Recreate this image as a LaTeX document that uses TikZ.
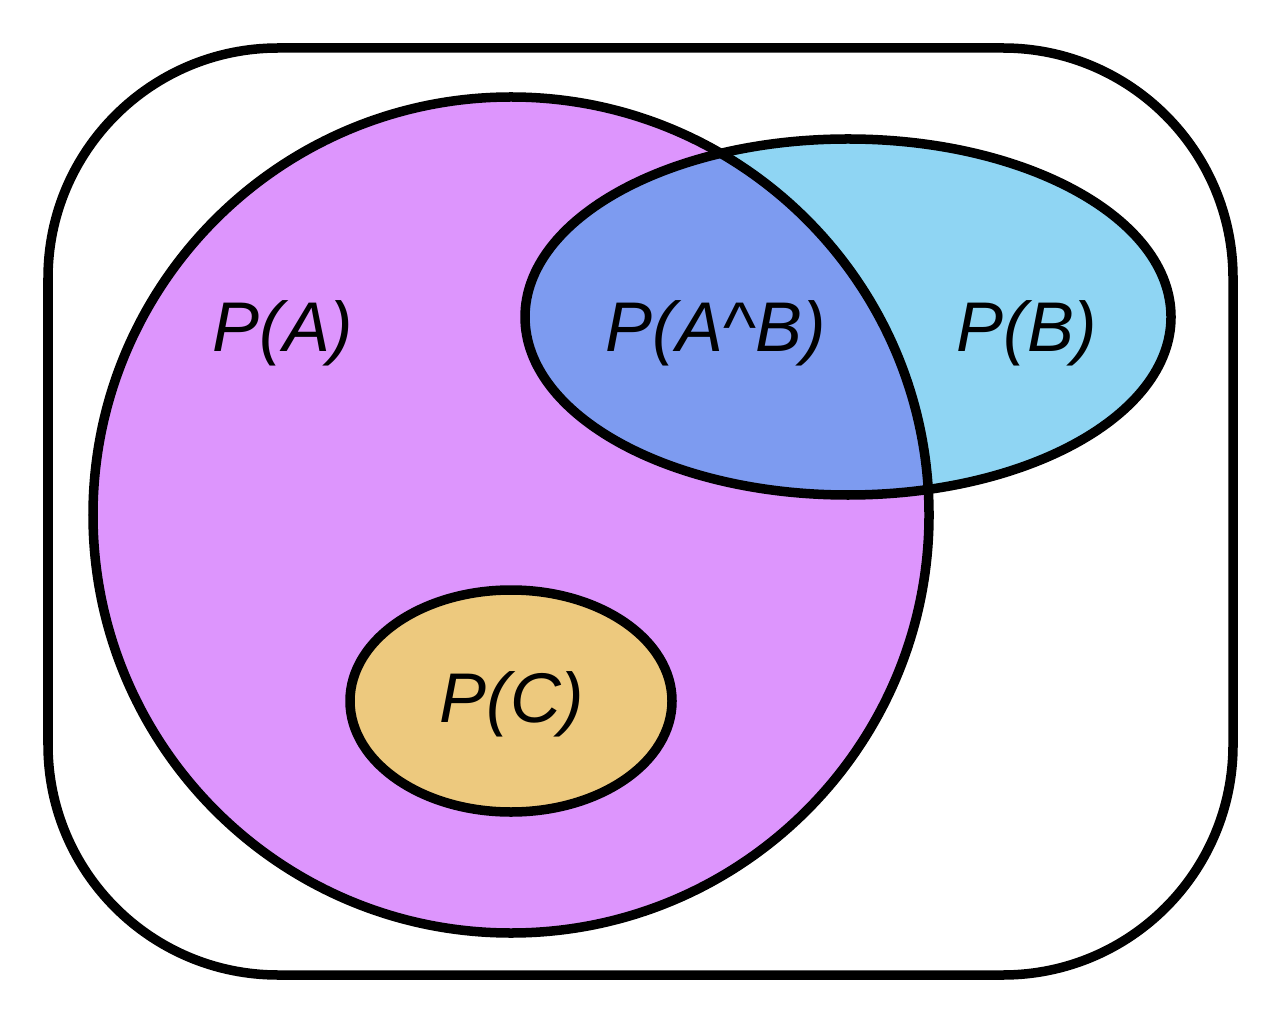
\documentclass[tikz,border=0pt]{standalone}
\usepackage{fontspec}
\setmainfont{Liberation Sans}
\usetikzlibrary{calc}
\definecolor{setA}{HTML}{DD95FD}
\definecolor{setB}{HTML}{8FD5F3}
\definecolor{setAB}{HTML}{7D9BF0}
\definecolor{setC}{HTML}{EDC97E}

\begin{document}
\begin{tikzpicture}[x=0.01cm,y=0.01cm,
  setline/.style={black, line width=0.095cm},
  lbl/.style={anchor=base, inner sep=0, font=\fontsize{20}{24}\selectfont\itshape}]
\useasboundingbox (0,0) rectangle (1280,1024);
\draw[setline, rounded corners=2.3cm] (48,49) rectangle (1233,976);
\fill[setA] (511,509) circle[radius=418];
\fill[setB] (848,707) ellipse[x radius=323, y radius=178];
\begin{scope}
\clip (511,509) circle[radius=418];
\fill[setAB] (848,707) ellipse[x radius=323, y radius=178];
\end{scope}
\fill[setC] (511,323) ellipse[x radius=161, y radius=111];
\draw[setline] (511,509) circle[radius=418];
\draw[setline] (848,707) ellipse[x radius=323, y radius=178];
\draw[setline] (511,323) ellipse[x radius=161, y radius=111];
\node[lbl] (lblA) at (283,672) {P(A)};
\node[lbl] (lblAB) at (716,672) {P(A\textasciicircum B)};
\node[lbl] (lblB) at (1027,672) {P(B)};
\node[lbl] (lblC) at (512,302) {P(C)};
\end{tikzpicture}
\end{document}
